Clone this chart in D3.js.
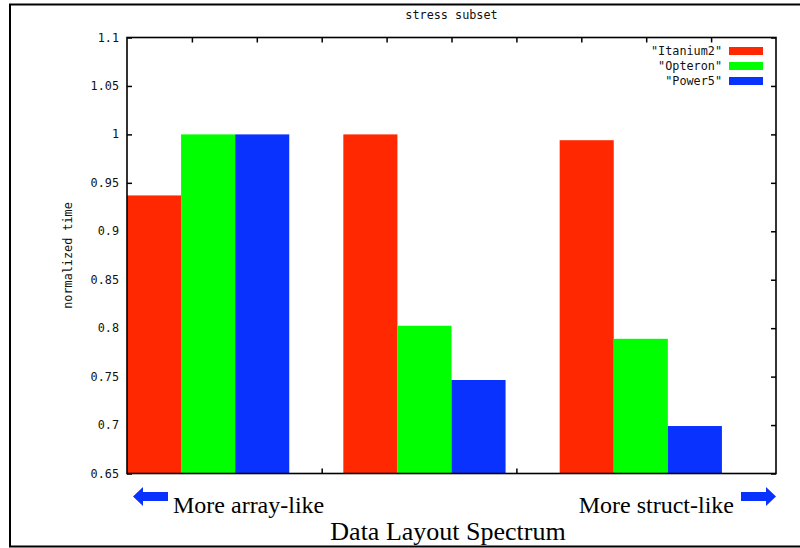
<!DOCTYPE html>
<html>
<head>
<meta charset="utf-8">
<script src="https://cdn.jsdelivr.net/npm/d3@7"></script>
<style>
  body { margin: 0; background: #fff; }
  svg { display: block; }
  .mono { font-family: "DejaVu Sans Mono", "Liberation Mono", monospace; font-size: 11.8px; fill: #111; }
  .serif { font-family: "Liberation Serif", "Times New Roman", serif; fill: #000; }
</style>
</head>
<body>
<script>
// Data
const groups = ["array-like", "mixed", "struct-like"];
const series = ["Itanium2", "Opteron", "Power5"];
const itanium2 = [0.937, 1.0, 0.994];
const opteron = [1.0, 0.8025, 0.789];
const power5 = [1.0, 0.7465, 0.699];
const colors = ["#ff2800", "#00ff00", "#0a32ff"];
const yTicks = [0.65, 0.7, 0.75, 0.8, 0.85, 0.9, 0.95, 1, 1.05, 1.1];
const topTicks = [1, 2, 3, 4, 5, 6, 7, 8, 9];
const bottomTicks = [3, 6];

const values = [itanium2, opteron, power5];
const rows = [];
groups.forEach((g, gi) => series.forEach((s, si) => rows.push({ g, s, v: values[si][gi], c: colors[si] })));

const width = 800, height = 548;
const pLeft = 127, pRight = 776, pTop = 37.5, pBottom = 473.5;

const svg = d3.select("body").append("svg")
    .attr("width", width)
    .attr("height", height);

// outer frame (open on the right like the original)
svg.append("path")
    .attr("d", "M801,4.5H10V546.5H801")
    .attr("fill", "none")
    .attr("stroke", "#000")
    .attr("stroke-width", 2);

const y = d3.scaleLinear().domain([0.65, 1.1]).range([pBottom, pTop]);
const xu = d3.scaleLinear().domain([0, 10]).range([pLeft, pRight]);
const x0 = d3.scaleBand().domain(groups).range([pLeft, pRight])
    .paddingInner(0.25).paddingOuter(0.125).align(0);
const x1 = d3.scaleBand().domain(series).range([0, x0.bandwidth()]);

// ticks (drawn under the bars)
const tickLine = (g) => { g.select(".domain").remove(); g.selectAll("text").remove(); g.selectAll("line").attr("stroke", "#000").attr("stroke-width", 1.5); };
svg.append("g").attr("transform", `translate(${pLeft},0)`)
    .call(d3.axisLeft(y).tickValues(yTicks).tickSizeInner(-5).tickSizeOuter(0)).call(tickLine);
svg.append("g").attr("transform", `translate(${pRight},0)`)
    .call(d3.axisRight(y).tickValues(yTicks).tickSizeInner(-5).tickSizeOuter(0)).call(tickLine);
svg.append("g").attr("transform", `translate(0,${pTop})`)
    .call(d3.axisTop(xu).tickValues(topTicks).tickSizeInner(-5).tickSizeOuter(0)).call(tickLine);
svg.append("g").attr("transform", `translate(0,${pBottom})`)
    .call(d3.axisBottom(xu).tickValues(bottomTicks).tickSizeInner(-5).tickSizeOuter(0)).call(tickLine);

// bars
svg.append("g").selectAll("rect")
    .data(rows)
    .enter().append("rect")
    .attr("x", d => x0(d.g) + x1(d.s))
    .attr("width", x1.bandwidth())
    .attr("y", d => y(d.v))
    .attr("height", d => y(0.65) - y(d.v))
    .attr("fill", d => d.c);

// plot border
svg.append("rect")
    .attr("x", pLeft).attr("y", pTop)
    .attr("width", pRight - pLeft).attr("height", pBottom - pTop)
    .attr("fill", "none").attr("stroke", "#000").attr("stroke-width", 1.6);

// y tick labels
svg.append("g").selectAll("text")
    .data(yTicks)
    .enter().append("text")
    .attr("class", "mono")
    .attr("x", pLeft - 8)
    .attr("y", d => y(d) + 4)
    .attr("text-anchor", "end")
    .text(d => d3.format("~g")(d));

// title and y label
svg.append("text").attr("class", "mono")
    .attr("x", (pLeft + pRight) / 2).attr("y", 19)
    .attr("text-anchor", "middle").text("stress subset");
svg.append("text").attr("class", "mono")
    .attr("transform", `translate(72,${(pTop + pBottom) / 2}) rotate(-90)`)
    .attr("text-anchor", "middle").text("normalized time");

// legend
const legend = svg.append("g").selectAll("g")
    .data(series)
    .enter().append("g")
    .attr("transform", (d, i) => `translate(0,${51 + i * 15})`);
legend.append("text").attr("class", "mono")
    .attr("x", 722).attr("y", 4)
    .attr("text-anchor", "end")
    .text(d => `"${d}"`);
legend.append("rect")
    .attr("x", 729).attr("y", -4)
    .attr("width", 34).attr("height", 8)
    .attr("fill", (d, i) => colors[i]);

// bottom annotations
svg.append("polygon")
    .attr("points", "133,496.5 143,487 143,492 168,492 168,501 143,501 143,506")
    .attr("fill", "#0a32ff");
svg.append("polygon")
    .attr("points", "776,496.5 766,487 766,492 741,492 741,501 766,501 766,506")
    .attr("fill", "#0a32ff");
svg.append("text").attr("class", "serif")
    .attr("x", 173).attr("y", 513).style("font-size", "24px")
    .text("More array-like");
svg.append("text").attr("class", "serif")
    .attr("x", 734).attr("y", 513).style("font-size", "24px")
    .attr("text-anchor", "end")
    .text("More struct-like");
svg.append("text").attr("class", "serif")
    .attr("x", 448).attr("y", 540).style("font-size", "26px")
    .attr("text-anchor", "middle")
    .text("Data Layout Spectrum");
</script>
</body>
</html>
